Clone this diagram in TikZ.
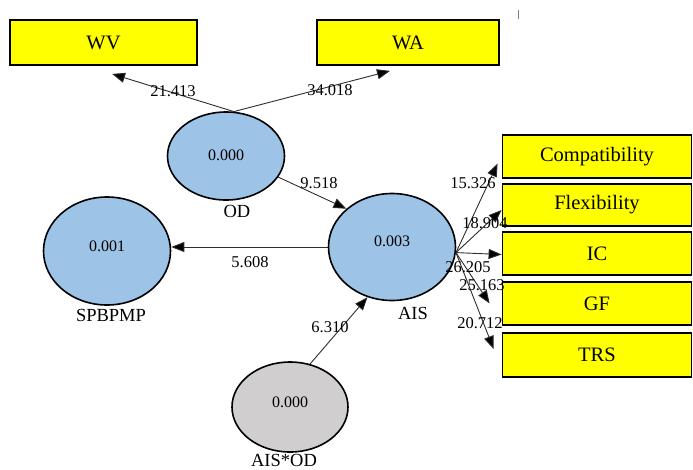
\documentclass[tikz,border=0pt]{standalone}
\usepackage{fontspec}
\setmainfont{Liberation Serif}
\newfontfamily\tnr{Liberation Serif}
\usetikzlibrary{arrows.meta,shapes.geometric,calc}
\definecolor{boxyellow}{RGB}{255,255,0}
\definecolor{lvblue}{RGB}{157,195,230}
\definecolor{lvgray}{RGB}{208,206,206}
\definecolor{linegray}{RGB}{45,45,45}
\begin{document}
\begin{tikzpicture}[x=1pt,y=-1pt,
 indbox/.style={draw=black,line width=1.8pt,fill=boxyellow,rectangle,inner sep=0pt,font=\tnr\fontsize{20.5}{22}\selectfont},
 latent/.style={draw=black,line width=1.6pt,fill=lvblue,ellipse,inner sep=0pt},
 valfont/.style={font=\tnr\fontsize{16}{18}\selectfont,inner sep=0pt},
 lvname/.style={font=\tnr\fontsize{18.5}{20}\selectfont,inner sep=0pt},
 coef/.style={font=\tnr\fontsize{16.5}{18}\selectfont,inner sep=0pt},
 arr/.style={draw=linegray,line width=0.9pt,-{Triangle[length=13pt,width=10pt,fill=black]}}]
\useasboundingbox (0,0) rectangle (693,469);
% indicator boxes
\node[indbox,minimum width=187pt,minimum height=45pt] (wv) at (103.5,42.5) {WV};
\node[indbox,minimum width=182pt,minimum height=45pt] (wa) at (408,42.5) {WA};
\node[indbox,minimum width=189pt,minimum height=43pt] (comp) at (597,156.5) {Compatibility};
\node[indbox,minimum width=189pt,minimum height=42pt] (flex) at (597,205) {Flexibility};
\node[indbox,minimum width=189pt,minimum height=43pt] (ic) at (597,253.5) {IC};
\node[indbox,minimum width=189pt,minimum height=43pt] (gf) at (597,303.5) {GF};
\node[indbox,minimum width=189pt,minimum height=44pt] (trs) at (597,355) {TRS};
% latent variables
\node[latent,minimum width=117pt,minimum height=88pt,label={[valfont,yshift=1pt]center:0.000}] (od) at (226,156) {};
\node[latent,minimum width=127pt,minimum height=107pt,label={[valfont,yshift=6pt]center:0.003}] (ais) at (392,247) {};
\node[latent,minimum width=127pt,minimum height=108pt,label={[valfont,yshift=5pt]center:0.001}] (spb) at (107,251) {};
\node[latent,fill=lvgray,minimum width=116pt,minimum height=90pt,label={[valfont,yshift=5pt]center:0.000}] (aisod) at (290,407) {};
% names
\node[lvname] (odn) at (237,211) {OD};
\node[lvname] (aisn) at (413,313) {AIS};
\node[lvname] (spbn) at (111,315) {SPBPMP};
\node[lvname] (aisodn) at (284,460) {AIS*OD};
% connectors
\draw[arr] (od.80) -- ($(wv.south)+(8.5,8)$);
\draw[arr] (od.80) -- ($(wa.south)+(-18,5)$);
\draw[arr] (od.-22) -- (ais.140);
\draw[arr] (ais.west) -- (ais.west -| spb.east);
\draw[arr] (aisod.65) -- (ais.244);
\draw[arr] (ais.-5) -- ($(comp.west)+(-4,7)$);
\draw[arr] (ais.-5) -- ($(flex.west)+(0,5)$);
\draw[arr] (ais.-5) -- ($(ic.west)+(0,1)$);
\draw[arr] (ais.-5) -- ($(gf.west)+(-12,0)$);
\draw[arr] (ais.-5) -- ($(trs.west)+(-8,-6)$);
% coefficients
\node[coef] (c1) at (173,91) {21.413};
\node[coef] (c2) at (330,90) {34.018};
\node[coef] (c3) at (319,183) {9.518};
\node[coef] (c4) at (250,262) {5.608};
\node[coef] (c5) at (330,327) {6.310};
\node[coef] (c6) at (473,183) {15.326};
\node[coef] (c7) at (485,223) {18.904};
\node[coef] (c8) at (468,267) {26.205};
\node[coef] (c9) at (482,285) {25.163};
\node[coef] (c10) at (480,323) {20.712};
% small mark
\draw[draw=gray,line width=0.8pt] (518,10) -- (518,19);
\end{tikzpicture}
\end{document}
